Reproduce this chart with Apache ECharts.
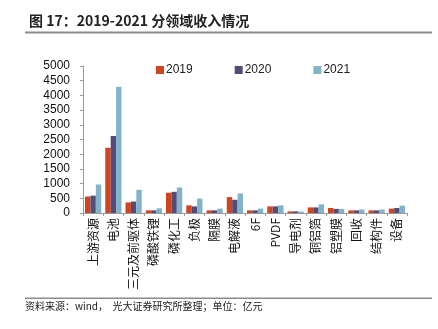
<!DOCTYPE html>
<html>
<head>
<meta charset="utf-8">
<script src="https://cdn.jsdelivr.net/npm/echarts@6/dist/echarts.min.js"></script>
<style>
  html, body { margin: 0; padding: 0; background: #fff; }
  #chart { width: 438px; height: 329px; }
</style>
</head>
<body>
<div id="chart"></div>
<script>
// Revenue by segment, 2019-2021 (unit: 100 million yuan)
const categories = ['上游资源', '电池', '三元及前驱体', '磷酸铁锂', '磷化工', '负极', '隔膜', '电解液', '6F', 'PVDF', '导电剂', '铜铝箔', '铝塑膜', '回收', '结构件', '设备'];
const rev2019 = [560, 2220, 360, 90, 690, 260, 90, 540, 90, 225, 55, 190, 170, 90, 90, 150];
const rev2020 = [590, 2620, 390, 90, 720, 225, 90, 450, 90, 225, 55, 190, 140, 90, 90, 170];
const rev2021 = [970, 4290, 790, 160, 870, 490, 150, 665, 150, 260, 50, 295, 140, 120, 120, 250];
const yTicks = { min: 0, max: 5000, interval: 500 };

const latin = 'Liberation Sans, Arial, Noto Sans CJK SC, sans-serif';
const cjk = 'Noto Sans CJK SC, sans-serif';

const chart = echarts.init(document.getElementById('chart'));
const barSeries = (name, data, color) => ({
  name, type: 'bar', data,
  barGap: '0%', barCategoryGap: '20%',
  itemStyle: { color }
});

chart.setOption({
  animation: false,
  title: {
    text: '图 17：2019-2021 分领域收入情况',
    left: 24, top: 9,
    textStyle: { fontFamily: cjk, fontSize: 14, fontWeight: 'bold', color: '#222' }
  },
  legend: {
    top: 59, left: 151,
    itemWidth: 8, itemHeight: 8, itemGap: 42,
    icon: 'rect',
    textStyle: { fontFamily: latin, fontSize: 12, color: '#222', padding: [0, 0, 0, -3] },
    data: ['2019', '2020', '2021']
  },
  grid: { left: 83, right: 31, top: 66, bottom: 116 },
  xAxis: {
    type: 'category',
    data: categories,
    axisLine: { lineStyle: { color: '#9a9a9a' } },
    axisTick: { show: true, length: 3, lineStyle: { color: '#9a9a9a' } },
    axisLabel: { rotate: 90, margin: 5, fontFamily: cjk, fontSize: 12, color: '#111', interval: 0 }
  },
  yAxis: {
    type: 'value',
    min: yTicks.min, max: yTicks.max, interval: yTicks.interval,
    splitLine: { show: false },
    axisLine: { show: true, lineStyle: { color: '#9a9a9a' } },
    axisTick: { show: true, length: 3, lineStyle: { color: '#9a9a9a' } },
    axisLabel: { margin: 13, fontFamily: latin, fontSize: 12, color: '#111', formatter: v => String(v) }
  },
  series: [
    barSeries('2019', rev2019, '#D2441F'),
    barSeries('2020', rev2020, '#544C78'),
    barSeries('2021', rev2021, '#82B3CA')
  ],
  graphic: [
    { type: 'rect', shape: { x: 25, y: 31.5, width: 407, height: 2 }, style: { fill: '#8c8c8c' } },
    { type: 'rect', shape: { x: 25, y: 297.5, width: 407, height: 1.5 }, style: { fill: '#8c8c8c' } },
    { type: 'text', left: 25, top: 301,
      style: { text: '资料来源：wind，  光大证券研究所整理；单位：亿元', font: '10px ' + cjk, fill: '#222' } }
  ]
});
</script>
</body>
</html>
